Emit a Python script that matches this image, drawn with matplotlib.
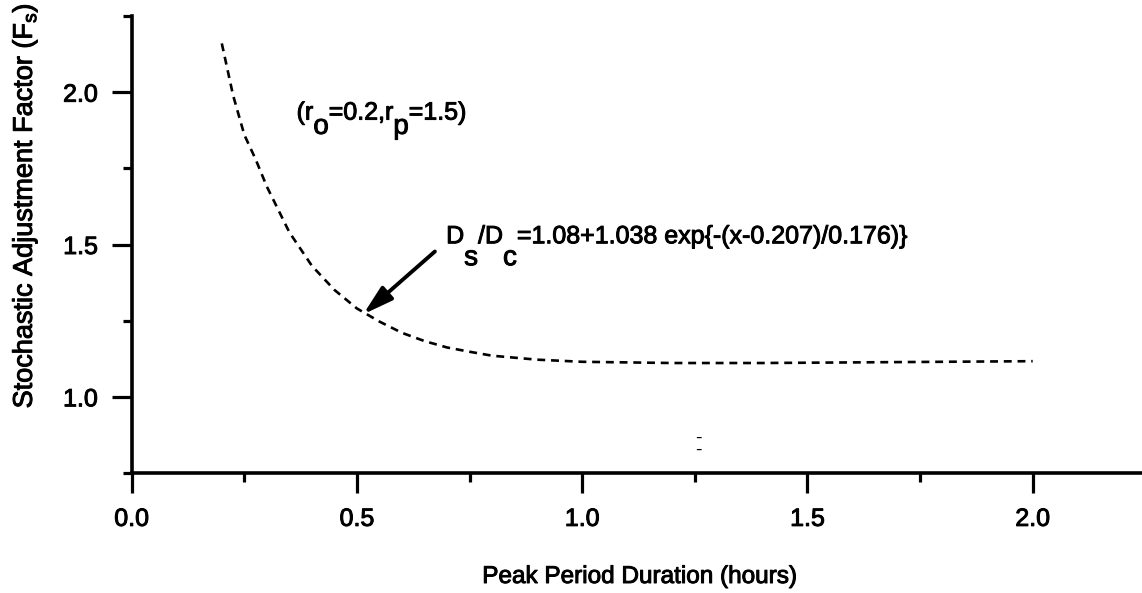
import matplotlib
matplotlib.use("Agg")
import matplotlib.pyplot as plt
import matplotlib.patheffects as pe

plt.rcParams['font.family'] = ['Liberation Sans', 'DejaVu Sans']
plt.rcParams['mathtext.fontset'] = 'custom'
plt.rcParams['mathtext.rm'] = 'Liberation Sans'
plt.rcParams['mathtext.default'] = 'regular'

# ---- data ----
duration = [0.20, 0.225, 0.25, 0.275, 0.30, 0.35, 0.40, 0.45, 0.50, 0.55,
            0.60, 0.65, 0.70, 0.75, 0.80, 0.90, 1.00, 1.20, 1.40, 1.60,
            1.80, 2.00]
factor = [2.16, 1.99, 1.86, 1.78, 1.69, 1.54, 1.43, 1.351, 1.29, 1.247,
          1.21, 1.183, 1.162, 1.148, 1.135, 1.122, 1.115, 1.111, 1.111, 1.113,
          1.115, 1.117]

x_major = [0.0, 0.5, 1.0, 1.5, 2.0]
x_major_labels = ["0.0", "0.5", "1.0", "1.5", "2.0"]
x_minor = [0.25, 0.75, 1.25, 1.75]
y_major = [1.0, 1.5, 2.0]
y_major_labels = ["1.0", "1.5", "2.0"]
y_minor = [0.75, 1.25, 1.75, 2.25]

x_label = "Peak Period Duration (hours)"
y_label = r"Stochastic Adjustment Factor (F$_\mathregular{s}$)"

param_parts = [("(r", False), ("o", True), ("=0.2,r", False), ("p", True), ("=1.5)", False)]
param_pos = (0.366, 1.910)
formula_parts = [("D", False), ("s", True), ("/D", False), ("c", True),
                 ("=1.08+1.038 exp{-(x-0.207)/0.176)}", False)]
formula_pos = (0.698, 1.504)
arrow_tail = (0.673, 1.477)
arrow_tip = (0.514, 1.271)
mark_pos = (1.257, 0.843)

INK = [pe.withStroke(linewidth=0.7, foreground='black')]

# ---- figure ----
W, H = 1142, 593
fig = plt.figure(figsize=(W / 100, H / 100), dpi=100)
ax = fig.add_axes([131.7 / W, (H - 473) / H, 1013.6 / W, 457 / H])
ax.set_xlim(0, 2.25)
ax.set_ylim(0.75, 2.25)

for s in ['top', 'right']:
    ax.spines[s].set_visible(False)
for s in ['left', 'bottom']:
    ax.spines[s].set_linewidth(2.6)

ax.set_xticks(x_major)
ax.set_xticklabels(x_major_labels)
ax.set_xticks(x_minor, minor=True)
ax.set_yticks(y_major)
ax.set_yticklabels(y_major_labels)
ax.set_yticks(y_minor, minor=True)
ax.tick_params(which='major', length=14.4, width=2.3, direction='out',
               labelsize=18, pad=10)
ax.tick_params(which='minor', length=6.5, width=2.3, direction='out')
for lbl in ax.get_xticklabels() + ax.get_yticklabels():
    lbl.set_path_effects(INK)

ax.plot(duration, factor, color='black', lw=1.9, linestyle=(0, (3, 2.2)),
        clip_on=False)

fs_main = 18
fs_sub = 20


def chain(parts, pos, drop):
    first = ax.text(pos[0], pos[1], parts[0][0], fontsize=fs_main,
                    va='baseline', ha='left', path_effects=INK)
    prev, prev_sub = first, parts[0][1]
    for txt, sub in parts[1:]:
        dy = 0
        if sub and not prev_sub:
            dy = -drop
        elif prev_sub and not sub:
            dy = drop
        t = ax.annotate(txt, xy=(1, 0), xycoords=prev, xytext=(0, dy),
                        textcoords='offset points', va='bottom', ha='left',
                        fontsize=fs_sub if sub else fs_main, path_effects=INK)
        prev, prev_sub = t, sub


chain(param_parts, param_pos, 11)
chain(formula_parts, formula_pos, 16.5)

ax.annotate('', xy=arrow_tip, xytext=arrow_tail,
            arrowprops=dict(arrowstyle='-|>,head_length=0.9,head_width=0.26',
                            lw=2.8, color='black', mutation_scale=20,
                            shrinkA=0, shrinkB=0))

ax.text(mark_pos[0], mark_pos[1], "-\n-", fontsize=14, linespacing=0.62,
        ha='center', va='center')

fig.text(25 / W, 1 - 205.5 / H, y_label, rotation=90, ha='center',
         va='center', fontsize=19.5, path_effects=INK)
fig.text(639 / W, 1 - 577 / H, x_label, ha='center', va='center',
         fontsize=17.5, path_effects=INK)

fig.savefig("out.png", dpi=100)
